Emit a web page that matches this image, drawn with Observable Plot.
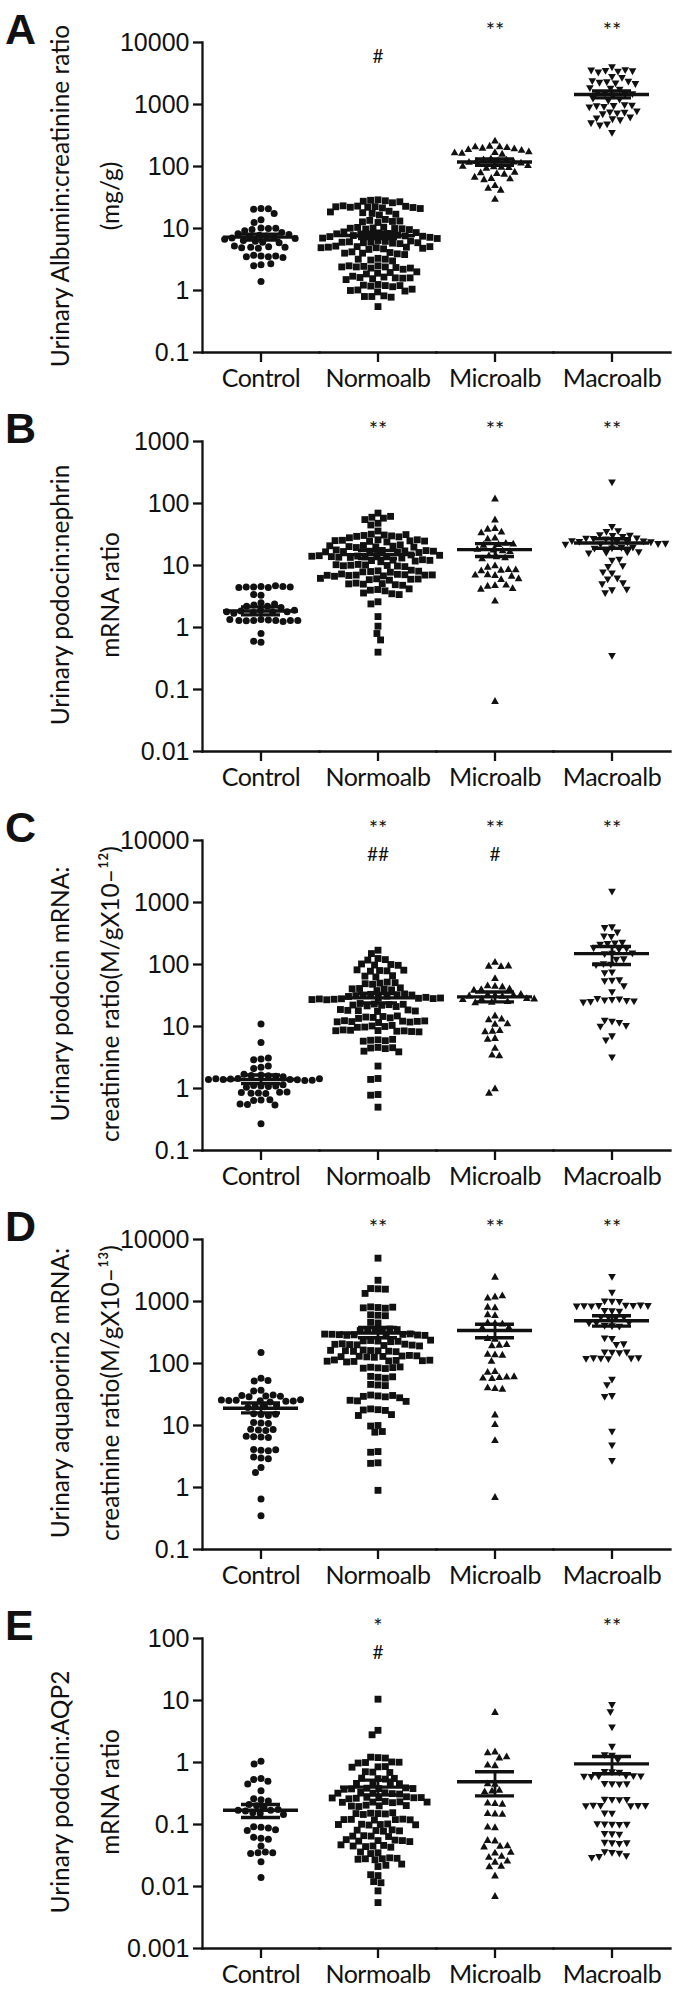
<!DOCTYPE html>
<html>
<head>
<meta charset="utf-8">
<script src="https://cdn.jsdelivr.net/npm/d3@7"></script>
<script src="https://cdn.jsdelivr.net/npm/@observablehq/plot@0.6"></script>
<style>
  body { margin: 0; background: #fff; }
  #root { width: 685px; }
  .panel { position: relative; width: 685px; height: 399px; overflow: hidden; }
  .panel svg { position: absolute; left: 0; top: 0; }
  .letter { position: absolute; left: 5px; top: 8px; font: bold 43px "Liberation Sans Narrow", sans-serif; line-height: 1; color: #111; }
  .ylab { position: absolute; left: 85px; top: 196px; transform: translate(-50%, -50%) rotate(-90deg);
          font: 24.5px Lato, sans-serif; line-height: 50px; text-align: center; white-space: nowrap; color: #111; }
  svg text { fill: #111; }
  g[aria-label="y-axis tick label"] text { font-family: "Liberation Sans Narrow", sans-serif; font-size: 25px; }
  g[aria-label="fx-axis tick label"] text { font-family: Lato, sans-serif; font-size: 25px; letter-spacing: -0.5px; }
</style>
</head>
<body>
<div id="root"></div>
<script>
const categories = ["Control", "Normoalb", "Microalb", "Macroalb"];

// ---------- Panel A: Urinary albumin:creatinine ratio ----------
const aControl = [21, 20.5, 20.8, 17.5, 13.8, 12.5, 10.2, 10, 9.6, 10.1, 9.2, 8.6, 8.2, 8, 7.8, 7.6, 7.4, 7.2, 7, 6.9, 6.7, 6.4, 6.2, 6, 5.9, 5.1, 5, 4.9, 5, 4.8, 5.2, 3.6, 3.7, 3.5, 3.6, 3.5, 3.4, 2.6, 2.5, 2.7, 1.4];
const aNormo = [29, 28.5, 28, 27.5, 26, 27, 23, 22.5, 22, 22.8, 21.5, 22, 23.2, 21.8, 22.4, 21, 19, 18, 17.5, 17, 18.5, 16.5, 14, 13.5, 13, 12.8, 13.2, 12.5, 10.5, 10.2, 10, 9.8, 10.4, 9.9, 10.1, 9.6, 8.8, 8.6, 8.5, 8.3, 8.2, 8, 7.9, 7.8, 7.7, 7.6, 7.5, 7.4, 7.2, 7, 6.9, 6.4, 6.2, 6, 5.9, 5.8, 6.1, 6.3, 5.7, 6, 5.9, 5.1, 5, 4.9, 5.2, 4.8, 5, 4.7, 5.1, 4.9, 4.6, 4.1, 4, 3.9, 4.2, 3.8, 4, 3.3, 3.1, 3.2, 3, 3.2, 2.5, 2.4, 2.3, 2.45, 2.35, 2.4, 2.2, 2.5, 2.3, 2.4, 1.95, 1.9, 1.85, 2, 1.65, 1.6, 1.55, 1.62, 1.58, 1.7, 1.5, 1.6, 1.25, 1.2, 1.18, 1.22, 1.15, 1.2, 1.02, 0.98, 1.0, 0.95, 1.05, 0.82, 0.8, 0.78, 0.8, 0.55];
const aMicro = [260, 215, 210, 205, 200, 195, 210, 190, 185, 170, 165, 160, 175, 168, 135, 130, 128, 125, 122, 120, 118, 115, 100, 98, 102, 95, 105, 97, 80, 78, 82, 76, 65, 62, 68, 64, 50, 45, 42, 30];
const aMacro = [4000, 3500, 3400, 3600, 3300, 3450, 3550, 2800, 2700, 2300, 2250, 2200, 2350, 2400, 2150, 1800, 1750, 1850, 1500, 1450, 1550, 1400, 1480, 1200, 1150, 1250, 950, 920, 980, 940, 960, 900, 750, 720, 780, 700, 740, 600, 580, 620, 560, 480, 460, 500, 350];
const aMean = [7.25, 7.7, 118, 1450];
const aLow = [6.5, 6.9, 105, 1280];
const aHigh = [8.1, 8.7, 132, 1650];
const aTicks = [0.1, 1, 10, 100, 1000, 10000];
const aTickLabels = ["0.1", "1", "10", "100", "1000", "10000"];
const aStars = ["", "", "**", "**"];
const aHashes = ["", "#", "", ""];
const aLabel = ["Urinary Albumin:creatinine ratio", "(mg/g)"];

// ---------- Panel B: Urinary podocin:nephrin mRNA ratio ----------
const bControl = [4.6, 4.5, 4.4, 4.7, 4.5, 4.6, 4.4, 4.5, 3.3, 3.4, 2.5, 2.3, 2.2, 2.4, 2.2, 2.1, 1.9, 1.8, 1.85, 1.75, 1.8, 1.7, 1.9, 1.8, 1.35, 1.3, 1.32, 1.28, 1.3, 1.3, 1.25, 1.3, 1.35, 1.3, 0.8, 0.58, 0.6];
const bNormo = [70, 60, 58, 62, 55, 48, 45, 36, 32, 31, 30, 30.5, 29, 29.5, 31.5, 28, 26, 25, 24.5, 25.5, 24, 26, 25.2, 24.8, 21, 20, 20.5, 19.5, 21.5, 20.2, 19.8, 20.8, 17.5, 17, 16.5, 17.2, 16.8, 17.8, 16.2, 17.4, 16.6, 17, 14.5, 14, 13.8, 14.2, 13.5, 14.8, 13.6, 14.4, 13.2, 14.6, 13.9, 14.1, 12.2, 12, 11.8, 12.4, 11.5, 12.1, 10.2, 10, 9.8, 10.4, 9.6, 10.1, 9.9, 10.3, 8.2, 8, 7.8, 8.4, 7.9, 8.1, 7.2, 7, 6.8, 7.1, 6.9, 7.3, 6.7, 7, 6.95, 7.05, 6.1, 5.9, 6, 6.2, 5.8, 6.05, 5.1, 5, 4.9, 5.2, 4.8, 5.05, 4.1, 4, 3.9, 4.2, 3.5, 3.6, 3.4, 2.6, 2.4, 1.5, 1.05, 0.8, 0.63, 0.4];
const bMicro = [120, 55, 40, 39, 35, 34, 28, 27, 22, 23, 21.5, 22.5, 18, 18.5, 17.5, 17, 14, 14.5, 13.5, 13, 10, 9.5, 8.5, 8.7, 8.3, 8.6, 7, 7.2, 6.8, 7.1, 6, 6.2, 4.8, 4.7, 4.9, 4.2, 4.3, 2.7, 0.065];
const bMacro = [220, 42, 35, 36, 30, 31, 29, 30.5, 27, 27.5, 26.5, 27.2, 24, 24.5, 23.5, 24.2, 23.8, 24.8, 22, 22.3, 21.8, 22.5, 19, 19.3, 18.8, 19.5, 16, 16.3, 15.8, 16.5, 12, 12.5, 9.5, 9.8, 7.5, 7.8, 6, 6.2, 5, 5.2, 4, 4.1, 3.6, 0.35];
const bMean = [1.85, 15, 18, 23];
const bLow = [1.6, 13, 14, 19];
const bHigh = [2.15, 17.5, 22.5, 27];
const bTicks = [0.01, 0.1, 1, 10, 100, 1000];
const bTickLabels = ["0.01", "0.1", "1", "10", "100", "1000"];
const bStars = ["", "**", "**", "**"];
const bHashes = ["", "", "", ""];
const bLabel = ["Urinary podocin:nephrin", "mRNA ratio"];

// ---------- Panel C: Urinary podocin mRNA:creatinine ratio ----------
const cControl = [11, 5.5, 3, 2.9, 3.1, 2.2, 2.3, 2.1, 1.65, 1.6, 1.62, 1.58, 1.7, 1.55, 1.45, 1.4, 1.42, 1.38, 1.4, 1.35, 1.44, 1.36, 1.4, 1.43, 1.1, 1.12, 1.08, 1.1, 1.05, 1.15, 0.85, 0.87, 0.83, 0.86, 0.84, 0.88, 0.65, 0.64, 0.66, 0.55, 0.54, 0.56, 0.27];
const cNormo = [170, 150, 125, 120, 118, 100, 98, 102, 97, 80, 78, 82, 79, 81, 65, 63, 66, 50, 48, 52, 49, 51, 41, 40, 39, 42, 38, 40.5, 33, 32, 31, 32.5, 31.5, 33.5, 30.5, 32.2, 29, 28, 28.5, 27.5, 29.5, 27, 28.2, 27.8, 28.8, 27.2, 23, 22, 22.5, 21.5, 23.5, 21, 22.2, 22.8, 18.5, 18, 17.5, 18.2, 17.8, 18.8, 14.5, 14, 13.8, 14.2, 13.5, 14.8, 12.2, 12, 11.8, 12.4, 11.6, 12.1, 11.9, 12.3, 10.2, 10, 9.8, 10.4, 9.7, 8.6, 8.4, 8.5, 8.7, 8.3, 8.8, 8.2, 8.55, 6.1, 6, 5.9, 6.2, 5.8, 4.6, 4.5, 4.4, 4.55, 4, 3.9, 2.3, 1.45, 1.4, 0.8, 0.78, 0.5];
const cMicro = [110, 95, 94, 96, 60, 45, 46, 44, 40, 41, 39, 32, 33, 31, 32.5, 31.5, 33.5, 28, 28.5, 27.5, 28.2, 25, 25.5, 24.5, 15, 13, 13.3, 11, 11.2, 8.5, 8.7, 8.3, 6.5, 6.3, 4.5, 3.5, 3.4, 1.0, 0.85];
const cMacro = [1500, 400, 390, 330, 280, 285, 220, 225, 215, 210, 180, 185, 175, 150, 148, 152, 120, 122, 100, 102, 98, 75, 73, 55, 56, 54, 45, 36, 27, 26.5, 27.5, 26, 28, 25, 25.5, 24.5, 12, 12.5, 11.5, 10, 10.3, 7, 6, 3.2];
const cMean = [1.4, 29, 30, 150];
const cLow = [1.2, 24, 25, 100];
const cHigh = [1.65, 34, 36, 195];
const cTicks = [0.1, 1, 10, 100, 1000, 10000];
const cTickLabels = ["0.1", "1", "10", "100", "1000", "10000"];
const cStars = ["", "**", "**", "**"];
const cHashes = ["", "##", "#", ""];
const cLabel = ["Urinary podocin mRNA:", "creatinine ratio(M/gX10–¹²)"];

// ---------- Panel D: Urinary aquaporin2 mRNA:creatinine ratio ----------
const dControl = [150, 58, 52, 53, 37, 36, 30, 31, 29, 30.5, 29.5, 25, 25.5, 24.5, 25.2, 24.8, 26, 24, 25.7, 20, 20.5, 19.5, 21, 15, 15.5, 14.5, 15.2, 11, 11.2, 10.8, 8.5, 8.7, 8.3, 8.6, 6.5, 6.6, 6.4, 6.7, 4, 4.1, 3.9, 4.05, 3, 3.1, 2.9, 2.1, 1.75, 0.65, 0.35];
const dNormo = [5000, 2200, 1600, 1620, 1580, 1350, 800, 820, 780, 810, 790, 600, 610, 590, 450, 460, 350, 355, 345, 360, 340, 352, 290, 295, 285, 300, 280, 292, 288, 296, 284, 298, 230, 235, 225, 232, 228, 238, 200, 205, 195, 202, 198, 208, 192, 204, 160, 162, 158, 165, 155, 163, 157, 161, 130, 132, 128, 135, 126, 131, 129, 133, 110, 112, 108, 114, 106, 111, 109, 113, 85, 87, 83, 86, 84, 88, 60, 62, 58, 61, 45, 46, 44, 30, 31, 29, 30.5, 29.5, 28, 25, 25.5, 24.5, 18, 18.5, 17.5, 17.8, 15, 14.5, 10, 9.8, 8, 7.8, 3.8, 3.7, 2.5, 2.45, 0.9];
const dMicro = [2500, 1200, 1150, 1250, 800, 820, 600, 620, 450, 460, 440, 380, 385, 250, 255, 200, 205, 195, 140, 142, 138, 110, 75, 73, 60, 61, 59, 62, 58, 40, 41, 39, 15, 10.5, 5.8, 0.7];
const dMacro = [2500, 1400, 1000, 1010, 990, 850, 860, 840, 855, 845, 865, 835, 850, 700, 710, 690, 550, 560, 540, 555, 450, 455, 445, 400, 405, 395, 250, 255, 200, 205, 150, 152, 148, 151, 120, 122, 118, 121, 119, 123, 55, 45, 30, 29, 8, 4.8, 2.7];
const dMean = [19, 310, 340, 490];
const dLow = [16, 260, 260, 400];
const dHigh = [23, 380, 430, 590];
const dTicks = [0.1, 1, 10, 100, 1000, 10000];
const dTickLabels = ["0.1", "1", "10", "100", "1000", "10000"];
const dStars = ["", "**", "**", "**"];
const dHashes = ["", "", "", ""];
const dLabel = ["Urinary aquaporin2 mRNA:", "creatinine ratio(M/gX10–¹³)"];

// ---------- Panel E: Urinary podocin:AQP2 mRNA ratio ----------
const eControl = [1.05, 0.95, 0.55, 0.53, 0.5, 0.45, 0.35, 0.25, 0.26, 0.24, 0.2, 0.21, 0.19, 0.17, 0.175, 0.165, 0.17, 0.15, 0.155, 0.145, 0.09, 0.092, 0.088, 0.08, 0.082, 0.06, 0.062, 0.058, 0.045, 0.035, 0.036, 0.034, 0.035, 0.025, 0.014];
const eNormo = [10.5, 3.3, 2.8, 1.2, 1.22, 1.18, 1.0, 1.02, 0.98, 1.01, 0.85, 0.86, 0.84, 0.7, 0.71, 0.69, 0.55, 0.56, 0.54, 0.555, 0.45, 0.46, 0.44, 0.455, 0.38, 0.385, 0.375, 0.39, 0.37, 0.38, 0.32, 0.325, 0.315, 0.33, 0.31, 0.32, 0.27, 0.275, 0.265, 0.28, 0.26, 0.27, 0.272, 0.268, 0.23, 0.235, 0.225, 0.232, 0.228, 0.23, 0.2, 0.205, 0.195, 0.202, 0.198, 0.15, 0.152, 0.148, 0.155, 0.145, 0.15, 0.12, 0.122, 0.118, 0.121, 0.119, 0.12, 0.1, 0.102, 0.098, 0.101, 0.099, 0.1, 0.08, 0.082, 0.078, 0.081, 0.079, 0.065, 0.066, 0.064, 0.065, 0.055, 0.056, 0.054, 0.055, 0.057, 0.053, 0.045, 0.046, 0.044, 0.045, 0.047, 0.043, 0.035, 0.036, 0.034, 0.028, 0.029, 0.027, 0.028, 0.0285, 0.0275, 0.022, 0.023, 0.021, 0.015, 0.0155, 0.012, 0.0115, 0.0085, 0.0055];
const eMicro = [6.5, 1.5, 1.45, 1.2, 1.25, 0.9, 0.92, 0.45, 0.46, 0.35, 0.36, 0.34, 0.22, 0.225, 0.215, 0.15, 0.152, 0.148, 0.09, 0.092, 0.055, 0.056, 0.045, 0.046, 0.044, 0.035, 0.036, 0.03, 0.031, 0.025, 0.026, 0.021, 0.0215, 0.015, 0.007];
const eMacro = [8.5, 6.5, 3.7, 1.8, 1.3, 1.32, 1.1, 0.7, 0.71, 0.69, 0.6, 0.61, 0.59, 0.605, 0.595, 0.6, 0.45, 0.455, 0.445, 0.45, 0.25, 0.252, 0.248, 0.25, 0.2, 0.202, 0.198, 0.201, 0.199, 0.2, 0.15, 0.152, 0.1, 0.101, 0.099, 0.1, 0.102, 0.07, 0.071, 0.069, 0.05, 0.051, 0.049, 0.05, 0.035, 0.036, 0.034, 0.03, 0.031, 0.029];
const eMean = [0.17, 0.4, 0.49, 0.95];
const eLow = [0.13, 0.3, 0.29, 0.66];
const eHigh = [0.21, 0.52, 0.71, 1.25];
const eTicks = [0.001, 0.01, 0.1, 1, 10, 100];
const eTickLabels = ["0.001", "0.01", "0.1", "1", "10", "100"];
const eStars = ["", "*", "", "**"];
const eHashes = ["", "#", "", ""];
const eLabel = ["Urinary podocin:AQP2", "mRNA ratio"];

// ---------- symbols (filled, black) ----------
const circleSym = {draw(ctx, size) { const r = Math.sqrt(size / Math.PI); ctx.moveTo(r, 0); ctx.arc(0, 0, r, 0, 2 * Math.PI); }};
const squareSym = {draw(ctx, size) { const r = Math.sqrt(size / Math.PI) * 0.98; ctx.rect(-r, -r, 2 * r, 2 * r); }};
const triUpSym = {draw(ctx, size) { const r = Math.sqrt(size / Math.PI); ctx.moveTo(0, -1.15 * r); ctx.lineTo(1.1 * r, 0.8 * r); ctx.lineTo(-1.1 * r, 0.8 * r); ctx.closePath(); }};
const triDownSym = {draw(ctx, size) { const r = Math.sqrt(size / Math.PI); ctx.moveTo(0, 1.15 * r); ctx.lineTo(1.1 * r, -0.8 * r); ctx.lineTo(-1.1 * r, -0.8 * r); ctx.closePath(); }};
const groupSymbols = [circleSym, squareSym, triUpSym, triDownSym];

const panels = [
  {letter: "A", groups: [aControl, aNormo, aMicro, aMacro], mean: aMean, low: aLow, high: aHigh, ticks: aTicks, tickLabels: aTickLabels, stars: aStars, hashes: aHashes, label: aLabel},
  {letter: "B", groups: [bControl, bNormo, bMicro, bMacro], mean: bMean, low: bLow, high: bHigh, ticks: bTicks, tickLabels: bTickLabels, stars: bStars, hashes: bHashes, label: bLabel},
  {letter: "C", groups: [cControl, cNormo, cMicro, cMacro], mean: cMean, low: cLow, high: cHigh, ticks: cTicks, tickLabels: cTickLabels, stars: cStars, hashes: cHashes, label: cLabel},
  {letter: "D", groups: [dControl, dNormo, dMicro, dMacro], mean: dMean, low: dLow, high: dHigh, ticks: dTicks, tickLabels: dTickLabels, stars: dStars, hashes: dHashes, label: dLabel},
  {letter: "E", groups: [eControl, eNormo, eMicro, eMacro], mean: eMean, low: eLow, high: eHigh, ticks: eTicks, tickLabels: eTickLabels, stars: eStars, hashes: eHashes, label: eLabel}
];

const root = document.getElementById("root");
const INK = "#111";

for (const p of panels) {
  const stats = categories.map((g, i) => ({group: g, mean: p.mean[i], low: p.low[i], high: p.high[i], stars: p.stars[i], hashes: p.hashes[i]}));
  const dotMarks = categories.map((g, i) => {
    const rows = p.groups[i].map(v => ({group: g, value: v}));
    return Plot.dot(rows, Plot.dodgeX({anchor: "middle", padding: 0.4}, {
      fx: "group", y: "value", r: 3.5, symbol: groupSymbols[i], fill: INK, stroke: null
    }));
  });
  const labelFor = new Map(p.ticks.map((t, i) => [t, p.tickLabels[i]]));

  const chart = Plot.plot({
    width: 685,
    height: 399,
    marginLeft: 201,
    marginRight: 15,
    marginTop: 42,
    marginBottom: 47,
    style: {background: "transparent", color: INK},
    fx: {domain: categories, padding: 0, label: null},
    y: {type: "log", domain: [p.ticks[0], p.ticks[p.ticks.length - 1]], label: null},
    marks: [
      Plot.frame({anchor: "left", stroke: INK, strokeWidth: 2.3, facetAnchor: "left"}),
      Plot.frame({anchor: "bottom", stroke: INK, strokeWidth: 2.3}),
      Plot.axisY({ticks: p.ticks, tickFormat: d => labelFor.get(d), tickSize: 9, tickPadding: 4, strokeWidth: 2.3, label: null}),
      Plot.axisFx({anchor: "bottom", tickSize: 10, tickPadding: 7, strokeWidth: 2.3, label: null}),
      ...dotMarks,
      Plot.tickY(stats, {fx: "group", y: "mean", insetLeft: 21, insetRight: 21, stroke: INK, strokeWidth: 3.4}),
      Plot.tickY(stats, {fx: "group", y: "low", insetLeft: 39, insetRight: 39, stroke: INK, strokeWidth: 3.4}),
      Plot.tickY(stats, {fx: "group", y: "high", insetLeft: 39, insetRight: 39, stroke: INK, strokeWidth: 3.4}),
      Plot.ruleX(stats, {fx: "group", x: null, y1: "low", y2: "high", stroke: INK, strokeWidth: 2.8}),
      Plot.text(stats, {fx: "group", text: "stars", frameAnchor: "top", dy: -20, fontSize: 22, fontFamily: "Lato"}),
      Plot.text(stats, {fx: "group", text: "hashes", frameAnchor: "top", dy: 7, fontSize: 19, fontFamily: "Lato"})
    ]
  });

  const panel = document.createElement("div");
  panel.className = "panel";
  panel.appendChild(chart);
  const letter = document.createElement("div");
  letter.className = "letter";
  letter.textContent = p.letter;
  panel.appendChild(letter);
  const ylab = document.createElement("div");
  ylab.className = "ylab";
  ylab.innerHTML = p.label.map(s => s.replace(/&/g, "&amp;").replace(/</g, "&lt;")).join("<br>");
  panel.appendChild(ylab);
  root.appendChild(panel);
}
</script>
</body>
</html>
